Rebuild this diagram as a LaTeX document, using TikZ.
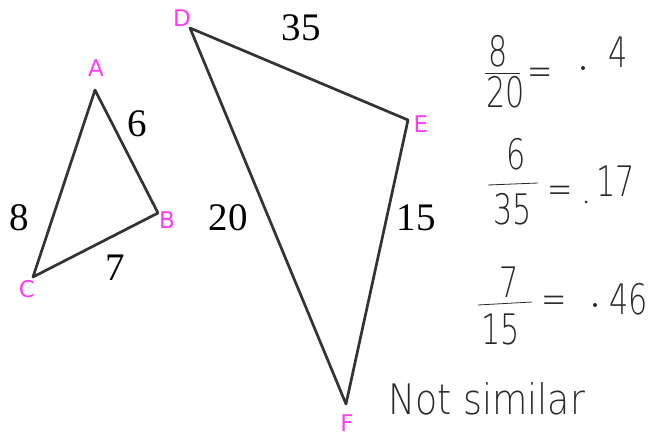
\documentclass[tikz,border=0pt]{standalone}
\usepackage{fontspec}
\setmainfont{Liberation Serif}
\newfontfamily\vfont{DejaVu Sans}
\newfontfamily\hand{DejaVu Sans ExtraLight}
\usetikzlibrary{positioning}
\definecolor{Vert}{HTML}{FF3DF5}
\definecolor{Ink}{HTML}{333333}
\definecolor{Pencil}{HTML}{2A2A2A}

\begin{document}
\begin{tikzpicture}[x=1pt,y=-1pt,
  vlabel/.style={text=Vert,font=\vfont\fontsize{23}{26}\selectfont,inner sep=0pt},
  side/.style={font=\fontsize{39}{42}\selectfont,inner sep=0pt},
  hand/.style={text=Pencil,font=\hand\fontsize{42}{46}\selectfont,inner sep=0pt,xscale=0.72},
  bar/.style={draw=Pencil,line width=0.8pt},
  edge/.style={draw=Ink,line width=2.7pt,line join=round}]
  \useasboundingbox (0,0) rectangle (657,436);
  % small triangle
  \coordinate (A) at (95,90);
  \coordinate (B) at (158,213);
  \coordinate (C) at (33,277);
  \draw[edge] (A) -- (B) -- (C) -- cycle;
  \node[vlabel] (lA) at (96,68) {A};
  \node[vlabel] (lB) at (167,220) {B};
  \node[vlabel] (lC) at (27,289) {C};
  \node[side] (sAB) at (137,124) {6};
  \node[side] (sBC) at (115,268) {7};
  \node[side] (sCA) at (19,218) {8};
  % large triangle
  \coordinate (D) at (190,28);
  \coordinate (E) at (408,120);
  \coordinate (F) at (346,404);
  \draw[edge] (D) -- (E) -- (F) -- cycle;
  \node[vlabel] (lD) at (182,18) {D};
  \node[vlabel] (lE) at (421,124) {E};
  \node[vlabel] (lF) at (347,423) {F};
  \node[side] (sDE) at (301,28) {35};
  \node[side] (sEF) at (416,218) {15};
  \node[side] (sFD) at (228,218) {20};
  % ratios
  \node[hand] (n1) at (498,51) {8};
  \draw[bar] (485,73) -- (520,73);
  \node[hand] (d1) at (506,92) {20};
  \node[hand] (q1) at (540,77) {=};
  \fill[Pencil] (583,68) circle (2);
  \node[hand] (r1) at (618,52) {4};
  \node[hand] (n2) at (516,154) {6};
  \draw[bar] (488,185) -- (538,183);
  \node[hand] (d2) at (513,209) {35};
  \node[hand] (q2) at (560,195) {=};
  \fill[Pencil] (586,202) circle (1.5);
  \node[hand] (r2) at (616,181) {17};
  \node[hand] (n3) at (509,282) {7};
  \draw[bar] (478,305) -- (532,302);
  \node[hand] (d3) at (501,329) {15};
  \node[hand] (q3) at (554,305) {=};
  \fill[Pencil] (595,305) circle (2);
  \node[hand] (r3) at (629,299) {46};
  \node[hand,xscale=1.2,anchor=base west] (ns) at (388,414) {Not similar};
\end{tikzpicture}
\end{document}
